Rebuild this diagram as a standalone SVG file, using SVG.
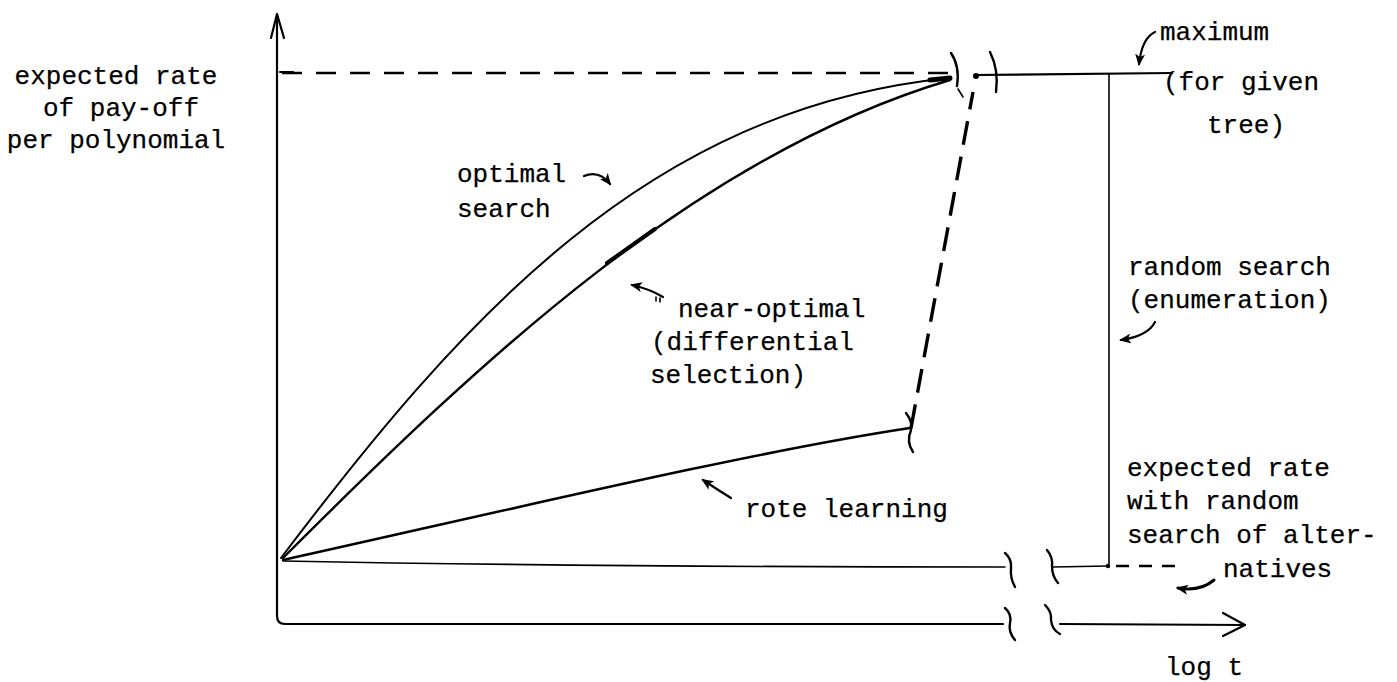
<svg xmlns="http://www.w3.org/2000/svg" width="1397" height="682" viewBox="0 0 1397 682">
  <style>
    text { font-family: "Liberation Mono", "DejaVu Sans Mono", monospace; font-size: 26px; fill: #000; stroke: #000; stroke-width: 0.25px; }
    .ax { fill: none; stroke: #000; stroke-width: 2.2; stroke-linecap: round; stroke-linejoin: round; }
    .thin { fill: none; stroke: #000; stroke-width: 1.6; stroke-linecap: round; }
    .curve { fill: none; stroke: #000; stroke-width: 2.4; stroke-linecap: round; }
    .brk { fill: none; stroke: #000; stroke-width: 2.4; stroke-linecap: round; }
    .dash { fill: none; stroke: #000; stroke-width: 2.4; stroke-dasharray: 20 14; }
    .ptr { fill: none; stroke: #000; stroke-width: 2.2; stroke-linecap: round; marker-end: url(#head); }
  </style>
  <defs>
    <marker id="head" viewBox="0 0 12 10" refX="10" refY="5" markerWidth="12" markerHeight="10" markerUnits="userSpaceOnUse" orient="auto">
      <path d="M0,0 L12,5 L0,10 L3,5 Z" fill="#000"/>
    </marker>
  </defs>

  <g id="axes">
    <path class="ax" d="M277,14 L277,616 Q277,624 285,624 L1003,624"/>
    <path class="ax" d="M271,38 L277,14 L284,38"/>
    <path class="ax" d="M280,72 L293,72"/>
    <path class="ax" d="M1060,624 L1245,625"/>
    <path class="ax" d="M1223,613 L1245,625 L1223,636"/>
    <path class="brk" d="M1005,608 Q1012,614 1010,623 Q1008,632 1015,640"/>
    <path class="brk" d="M1045,605 Q1052,612 1051,620 Q1052,630 1060,634"/>
  </g>

  <g id="connectors">
    <path class="dash" d="M282,73 L950,73"/>
    <path class="thin" d="M283,561 Q600,567 1005,567"/>
    <path class="brk" d="M1005,553 Q1012,559 1011,568 Q1010,578 1015,587"/>
    <path class="brk" d="M1047,550 Q1053,557 1052,566 Q1052,576 1058,583"/>
    <path class="thin" d="M1053,567 L1108,566"/>
    <circle cx="1108" cy="566" r="2.2" fill="#000"/>
    <path class="dash" d="M1116,566 L1182,566" style="stroke-dasharray:13 10"/>
    <path class="ax" d="M975,75 L1172,73"/>
    <circle cx="976" cy="76" r="3" fill="#000"/>
    <path class="brk" d="M951,53 Q960,66 957,86"/>
    <path class="brk" d="M990,52 Q999,70 996,92"/>
    <path class="thin" d="M1109,74 L1109,566"/>
    <path class="thin" id="optimal" d="M281,558 C461,320 648,108 950,78" style="stroke-width:2"/>
    <path class="curve" id="nearopt" d="M283,558 C483,358 698,155 950,80"/>
    <path class="curve" d="M607,263 L655,229" style="stroke-width:4"/>
    <path class="curve" d="M930,80 L950,78" style="stroke-width:5"/>
    <path class="curve" id="rote" d="M283,560 C500,512 750,452 910,428" style="stroke-width:2.6"/>
    <path class="brk" d="M906,413 Q913,422 911,430 Q906,442 913,452"/>
    <path class="dash" d="M911,428 L973,92" style="stroke-width:3.4;stroke-dasharray:24 12"/>
    <path class="thin" d="M958,89 L963,97"/>
  </g>

  <g id="label-yaxis">
    <text x="116" y="84" text-anchor="middle">expected rate</text>
    <text x="121" y="116" text-anchor="middle">of pay-off</text>
    <text x="116" y="148" text-anchor="middle">per polynomial</text>
  </g>

  <g id="label-optimal">
    <text x="457" y="182">optimal</text>
    <text x="457" y="217">search</text>
    <path class="ptr" d="M584,176 Q599,170 610,184"/>
  </g>

  <g id="label-nearoptimal">
    <text x="678" y="317">near-optimal</text>
    <text x="651" y="350">(differential</text>
    <text x="650" y="383">selection)</text>
    <path class="ptr" d="M663,297 Q650,289 632,285"/>
    <path class="thin" d="M656,297 L656,301 M660,298 L660,302"/>
  </g>

  <g id="label-rote">
    <text x="745" y="517">rote learning</text>
    <path class="ptr" d="M731,498 Q718,490 703,480"/>
  </g>

  <g id="label-maximum">
    <text x="1160" y="40">maximum</text>
    <text x="1163" y="90">(for given</text>
    <text x="1207" y="133">tree)</text>
    <path class="ptr" d="M1155,32 Q1142,38 1139,64"/>
  </g>

  <g id="label-random">
    <text x="1128" y="275">random search</text>
    <text x="1128" y="308">(enumeration)</text>
    <path class="ptr" d="M1155,322 Q1148,336 1121,340"/>
  </g>

  <g id="label-expected">
    <text x="1127" y="476">expected rate</text>
    <text x="1127" y="509">with random</text>
    <text x="1127" y="543">search of alter-</text>
    <text x="1223" y="577">natives</text>
    <path class="ptr" d="M1214,580 Q1200,592 1178,588" style="stroke-width:3"/>
  </g>

  <g id="label-logt">
    <text x="1165" y="675">log t</text>
  </g>
</svg>
